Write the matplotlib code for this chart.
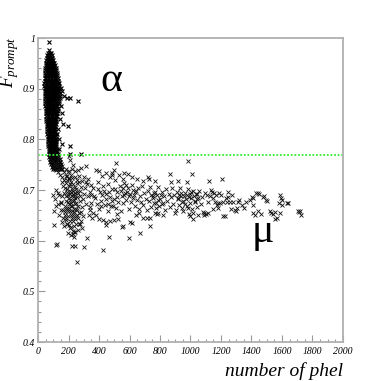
import matplotlib
matplotlib.use("Agg")
import matplotlib.pyplot as plt
from matplotlib.ticker import MultipleLocator, FuncFormatter

plt.rcParams['font.family'] = ['Liberation Serif', 'DejaVu Serif']
plt.rcParams['mathtext.fontset'] = 'custom'
plt.rcParams['mathtext.it'] = 'Liberation Serif:italic'
plt.rcParams['mathtext.rm'] = 'Liberation Serif'

# ---------------------------------------------
# data
# ---------------------------------------------

# alpha blob: rows of (F_prompt, [number of phel ...])
ALPHA_ROWS = [
    (0.993, [72]),
    (0.976, [72]),
    (0.971, [66, 76, 84]),
    (0.966, [61, 70, 79, 89]),
    (0.961, [57, 66, 75, 85, 95]),
    (0.956, [54, 63, 73, 82, 92, 101]),
    (0.951, [52, 61, 71, 81, 90, 100, 108]),
    (0.946, [50, 60, 70, 79, 89, 98, 109]),
    (0.941, [49, 58, 68, 78, 88, 97, 106, 116]),
    (0.936, [47, 57, 67, 77, 87, 96, 106, 119]),
    (0.931, [46, 56, 66, 76, 86, 95, 105, 114, 124]),
    (0.926, [45, 55, 65, 75, 85, 94, 104, 113, 127]),
    (0.921, [44, 54, 64, 74, 84, 93, 103, 112, 121, 131]),
    (0.916, [43, 53, 63, 73, 83, 92, 102, 111, 120, 134]),
    (0.911, [42, 52, 62, 72, 82, 91, 101, 110, 119, 128, 138]),
    (0.906, [42, 51, 61, 71, 81, 90, 100, 109, 118, 127, 140]),
    (0.901, [43, 52, 61, 71, 80, 90, 99, 109, 118, 128, 138, 150]),
    (0.896, [44, 53, 62, 72, 81, 91, 100, 110, 119, 129, 139, 160]),
    (0.891, [45, 54, 63, 73, 82, 92, 101, 111, 120, 130, 142]),
    (0.886, [46, 55, 64, 74, 83, 93, 102, 112, 121, 131, 145, 168]),
    (0.881, [46, 56, 65, 75, 84, 94, 103, 113, 122, 132, 147, 190, 210]),
    (0.876, [47, 57, 66, 76, 85, 95, 104, 114, 123, 136, 260]),
    (0.871, [48, 58, 67, 77, 86, 96, 105, 115, 124, 138]),
    (0.866, [49, 59, 68, 78, 87, 97, 106, 116, 126, 152]),
    (0.861, [50, 60, 69, 79, 88, 98, 107, 117, 128]),
    (0.856, [51, 61, 70, 80, 89, 99, 108, 118, 130]),
    (0.851, [52, 62, 71, 81, 90, 100, 109, 119, 127, 157]),
    (0.846, [53, 63, 72, 82, 91, 101, 110, 120, 126]),
    (0.841, [54, 64, 73, 83, 92, 102, 111, 121, 142]),
    (0.836, [55, 65, 74, 84, 93, 103, 112, 120]),
    (0.831, [57, 67, 76, 85, 94, 104, 113, 119, 165]),
    (0.826, [58, 68, 77, 86, 95, 105, 114, 197]),
    (0.821, [60, 69, 78, 87, 96, 105, 113, 132]),
    (0.816, [61, 71, 80, 89, 98, 106, 114]),
    (0.811, [62, 72, 81, 90, 99, 107, 115, 126]),
    (0.806, [63, 73, 82, 91, 100, 108, 115]),
    (0.801, [64, 74, 83, 92, 101, 109, 116, 137]),
    (0.796, [65, 75, 84, 93, 102, 110, 117]),
    (0.791, [66, 76, 85, 94, 103, 111, 119, 160]),
    (0.786, [67, 77, 86, 95, 104, 112, 121, 208]),
    (0.781, [69, 79, 88, 97, 106, 114, 123, 140]),
    (0.776, [70, 80, 89, 98, 107, 115, 125]),
    (0.771, [72, 82, 91, 100, 109, 118, 128, 208, 284]),
    (0.766, [74, 84, 93, 102, 111, 121, 132]),
    (0.761, [77, 88, 97, 107, 118, 128, 146]),
    (0.756, [81, 92, 103, 114, 126, 141]),
    (0.751, [85, 97, 109, 122, 136, 153]),
    (0.746, [90, 103, 117, 131, 147]),
    (0.741, [96, 110, 126, 141, 158]),
]

# muon band, dense part near the blob
MUON_CORE = [
    (98, 0.757), (112, 0.752), (125, 0.748), (105, 0.744), (138, 0.755),
    (118, 0.739), (132, 0.736), (148, 0.742), (160, 0.748), (145, 0.730),
    (170, 0.735), (155, 0.725), (182, 0.742), (190, 0.728), (168, 0.720),
    (200, 0.738), (210, 0.760), (230, 0.750), (222, 0.742), (245, 0.738),
    (263, 0.740), (282, 0.743), (315, 0.748), (205, 0.768), (383, 0.740),
    (212, 0.681), (188, 0.702), (247, 0.663), (229, 0.712), (196, 0.648),
    (265, 0.694), (174, 0.669), (238, 0.629), (203, 0.724), (281, 0.657),
    (219, 0.696), (156, 0.688), (252, 0.675), (191, 0.633), (234, 0.689),
    (208, 0.659), (271, 0.716), (183, 0.713), (244, 0.642), (226, 0.668),
    (162, 0.707), (297, 0.683), (215, 0.627), (259, 0.651), (199, 0.691),
    (241, 0.705), (178, 0.656), (287, 0.667), (223, 0.645), (205, 0.673),
    (268, 0.633), (232, 0.698), (149, 0.675), (254, 0.687), (217, 0.716),
    (193, 0.665), (276, 0.699), (239, 0.656), (186, 0.689), (209, 0.638),
    (248, 0.702), (227, 0.679), (170, 0.695), (262, 0.669), (201, 0.708),
    (236, 0.617), (292, 0.648), (181, 0.679), (220, 0.659), (256, 0.713),
    (213, 0.693), (245, 0.684), (197, 0.677), (273, 0.679), (231, 0.639),
    (166, 0.661), (284, 0.705), (207, 0.699), (250, 0.632), (189, 0.719),
    (225, 0.703), (263, 0.644), (177, 0.703), (240, 0.672), (216, 0.668),
    (302, 0.693), (196, 0.659), (258, 0.661), (230, 0.651), (211, 0.712),
    (269, 0.655), (184, 0.645), (243, 0.694), (222, 0.688), (280, 0.638),
    (205, 0.684), (235, 0.663), (160, 0.716), (255, 0.697), (192, 0.696),
    (315, 0.672), (218, 0.651), (247, 0.648), (200, 0.664), (274, 0.688),
    (228, 0.692), (185, 0.662), (310, 0.704), (238, 0.681), (214, 0.674),
    (326, 0.688), (338, 0.667), (321, 0.712), (333, 0.651), (344, 0.697),
    (200, 0.630), (210, 0.625), (228, 0.620), (244, 0.618), (215, 0.612),
    (235, 0.607), (199, 0.616), (232, 0.613), (262, 0.622), (275, 0.632),
    (288, 0.625), (322, 0.605), (302, 0.587), (221, 0.590), (243, 0.590),
    (254, 0.557), (118, 0.591), (122, 0.594),
    (107, 0.630), (107, 0.659), (100, 0.690), (112, 0.682), (120, 0.668),
    (128, 0.695), (140, 0.690), (148, 0.676), (152, 0.660), (140, 0.650),
    (165, 0.645), (178, 0.650), (186, 0.640), (192, 0.632), (172, 0.628),
    (158, 0.636), (130, 0.672), (115, 0.700),
    (185, 0.728), (195, 0.735), (205, 0.722), (215, 0.730), (225, 0.724),
    (240, 0.725), (255, 0.720), (270, 0.728), (290, 0.718), (300, 0.725),
    (315, 0.715), (330, 0.722), (345, 0.710), (350, 0.690), (345, 0.675),
    (340, 0.660), (352, 0.645),
]

# muon band, middle part
MUON_BAND = [
    (362, 0.703), (377, 0.684), (391, 0.716), (398, 0.662), (409, 0.697),
    (416, 0.679), (428, 0.708), (437, 0.671), (443, 0.693), (456, 0.659),
    (461, 0.712), (473, 0.686), (479, 0.668), (488, 0.701), (497, 0.683),
    (503, 0.719), (512, 0.664), (519, 0.696), (527, 0.677), (536, 0.707),
    (543, 0.659), (549, 0.689), (558, 0.675), (566, 0.714), (571, 0.694),
    (579, 0.681), (588, 0.703), (594, 0.662), (603, 0.692), (609, 0.677),
    (617, 0.709), (624, 0.685), (633, 0.668), (639, 0.697), (646, 0.681),
    (654, 0.704), (661, 0.663), (667, 0.689), (676, 0.676), (683, 0.708),
    (691, 0.671), (698, 0.694), (706, 0.683), (713, 0.661), (721, 0.699),
    (727, 0.678), (736, 0.705), (744, 0.667), (751, 0.688), (758, 0.675),
    (766, 0.697), (773, 0.664), (781, 0.691), (789, 0.706), (796, 0.668),
    (803, 0.683), (811, 0.697), (819, 0.674), (827, 0.689), (834, 0.661),
    (842, 0.702), (849, 0.679), (857, 0.693), (864, 0.666), (871, 0.687),
    (879, 0.704), (887, 0.673), (894, 0.690), (902, 0.661), (909, 0.697),
    (917, 0.684), (924, 0.671), (931, 0.703), (939, 0.688), (946, 0.664),
    (953, 0.679), (961, 0.694), (968, 0.683), (976, 0.668), (983, 0.701),
    (991, 0.686), (998, 0.674), (1006, 0.696), (1013, 0.663), (1021, 0.689),
    (1028, 0.679), (1036, 0.693), (1043, 0.667), (1051, 0.684), (1058, 0.698),
    (1066, 0.672), (1074, 0.686),
    (400, 0.738), (448, 0.734), (483, 0.733), (485, 0.730), (498, 0.739),
    (509, 0.754), (530, 0.730), (565, 0.734), (592, 0.731), (615, 0.725),
    (719, 0.726), (728, 0.721), (767, 0.718), (866, 0.731), (872, 0.716),
    (920, 0.718), (975, 0.716), (986, 0.758), (1012, 0.731), (650, 0.722),
    (690, 0.718), (560, 0.722), (470, 0.725), (420, 0.728),
    (424, 0.582), (466, 0.608), (597, 0.605), (669, 0.616), (734, 0.629),
    (553, 0.626), (603, 0.636), (426, 0.640), (445, 0.636), (470, 0.638),
    (500, 0.640), (525, 0.643), (444, 0.631), (555, 0.628), (614, 0.634),
    (690, 0.645), (712, 0.645), (734, 0.645), (780, 0.652), (790, 0.655),
    (767, 0.655), (822, 0.650), (898, 0.655), (990, 0.652), (1016, 0.643),
    (1016, 0.655), (1050, 0.650), (1082, 0.657), (1100, 0.652), (1115, 0.655),
    (380, 0.650), (400, 0.642), (360, 0.655), (520, 0.652), (640, 0.650),
    (660, 0.655), (950, 0.658), (1000, 0.648),
    (545, 0.698), (555, 0.704), (565, 0.690), (575, 0.710), (585, 0.697),
    (595, 0.688), (620, 0.700), (630, 0.690), (640, 0.698), (742, 0.690),
    (752, 0.684), (760, 0.695), (775, 0.675), (790, 0.680), (805, 0.690),
    (815, 0.672), (915, 0.682), (925, 0.690), (935, 0.695), (945, 0.676),
    (955, 0.688), (965, 0.672), (975, 0.690), (985, 0.665), (995, 0.692),
    (1005, 0.685), (1015, 0.698), (1030, 0.676), (1040, 0.692), (1045, 0.682),
    (368, 0.689), (384, 0.672), (394, 0.701), (411, 0.668), (419, 0.691),
    (433, 0.699), (447, 0.682), (459, 0.673), (468, 0.697), (482, 0.679),
    (494, 0.668), (507, 0.702), (521, 0.686),
]

# muon band, long tail
MUON_TAIL = [
    (1088, 0.655), (1090, 0.651), (1094, 0.694), (1115, 0.677), (1121, 0.718),
    (1134, 0.700), (1140, 0.697), (1150, 0.662), (1154, 0.694), (1160, 0.677),
    (1174, 0.670), (1180, 0.674), (1189, 0.694), (1195, 0.674), (1209, 0.721),
    (1213, 0.649), (1215, 0.677), (1226, 0.649), (1240, 0.677), (1248, 0.697),
    (1248, 0.687), (1260, 0.676), (1280, 0.677), (1290, 0.660), (1298, 0.659),
    (1305, 0.665), (1311, 0.677), (1320, 0.680), (1340, 0.670), (1353, 0.664),
    (1362, 0.677), (1390, 0.680), (1401, 0.687), (1408, 0.684), (1410, 0.670),
    (1412, 0.655), (1425, 0.651), (1430, 0.694), (1440, 0.659), (1443, 0.694),
    (1450, 0.692), (1460, 0.653), (1478, 0.687), (1482, 0.689), (1495, 0.680),
    (1500, 0.679), (1521, 0.658), (1530, 0.655), (1540, 0.652), (1554, 0.643),
    (1554, 0.656), (1565, 0.644), (1583, 0.674), (1587, 0.690), (1593, 0.685),
    (1598, 0.670), (1600, 0.680), (1585, 0.655), (1635, 0.674), (1641, 0.674),
    (1705, 0.659), (1710, 0.656), (1718, 0.658), (1725, 0.651),
    (1110, 0.690), (1125, 0.688), (1145, 0.685), (1165, 0.690), (1200, 0.690),
    (1230, 0.685), (1270, 0.690), (1180, 0.664), (1265, 0.662),
]

CUT = 0.77
X_LIMITS = (0, 2000)
Y_LIMITS = (0.4, 1.0)

# ---------------------------------------------
# plot
# ---------------------------------------------

ax_x = [x for y, xs in ALPHA_ROWS for x in xs]
ax_y = [y for y, xs in ALPHA_ROWS for x in xs]
mu_pts = MUON_CORE + MUON_BAND + MUON_TAIL
mu_x = [p[0] for p in mu_pts]
mu_y = [p[1] for p in mu_pts]

fig = plt.figure(figsize=(3.81, 3.81), dpi=100)
ax = fig.add_axes([38 / 381, 1 - 342 / 381, 305 / 381, 304 / 381])

mk = dict(linestyle='none', marker='x', markersize=3.0, markeredgewidth=0.6, color='#111111')
ax.plot(ax_x, ax_y, **dict(mk, markeredgewidth=0.8, color='black'))
ax.plot(mu_x, mu_y, **mk)

ax.axhline(CUT, color='#33ee33', linewidth=1.3, linestyle=(0, (1, 1)))

ax.set_xlim(*X_LIMITS)
ax.set_ylim(*Y_LIMITS)

ax.xaxis.set_major_locator(MultipleLocator(200))
ax.xaxis.set_minor_locator(MultipleLocator(50))
ax.yaxis.set_major_locator(MultipleLocator(0.1))
ax.yaxis.set_minor_locator(MultipleLocator(0.02))
ax.yaxis.set_major_formatter(FuncFormatter(lambda v, p: '%g' % round(v, 2)))

ax.tick_params(which='both', direction='in', colors='#999999', labelcolor='black',
               top=False, right=False, labelsize=7)
ax.tick_params(which='major', length=5, width=0.8)
ax.tick_params(which='minor', length=2.5, width=0.8)
ax.tick_params(axis='y', pad=2)
for lab in ax.get_xticklabels() + ax.get_yticklabels():
    lab.set_fontstyle('italic')

for s in ax.spines.values():
    s.set_color('#b0b0b0')
    s.set_linewidth(1.3)

ax.text(479, 0.915, 'α', fontsize=30, ha='center', va='center')
ax.text(1475, 0.618, 'μ', fontsize=30, ha='center', va='center')

fig.text(10 / 381, 1 - 36 / 381, r'$F_{prompt}$', rotation=90, fontsize=13.5,
         ha='center', va='top')
fig.text(343 / 381, 1 - 376 / 381, 'number of phel', fontsize=14,
         style='italic', ha='right', va='baseline')

fig.savefig('out.png', dpi=100)
